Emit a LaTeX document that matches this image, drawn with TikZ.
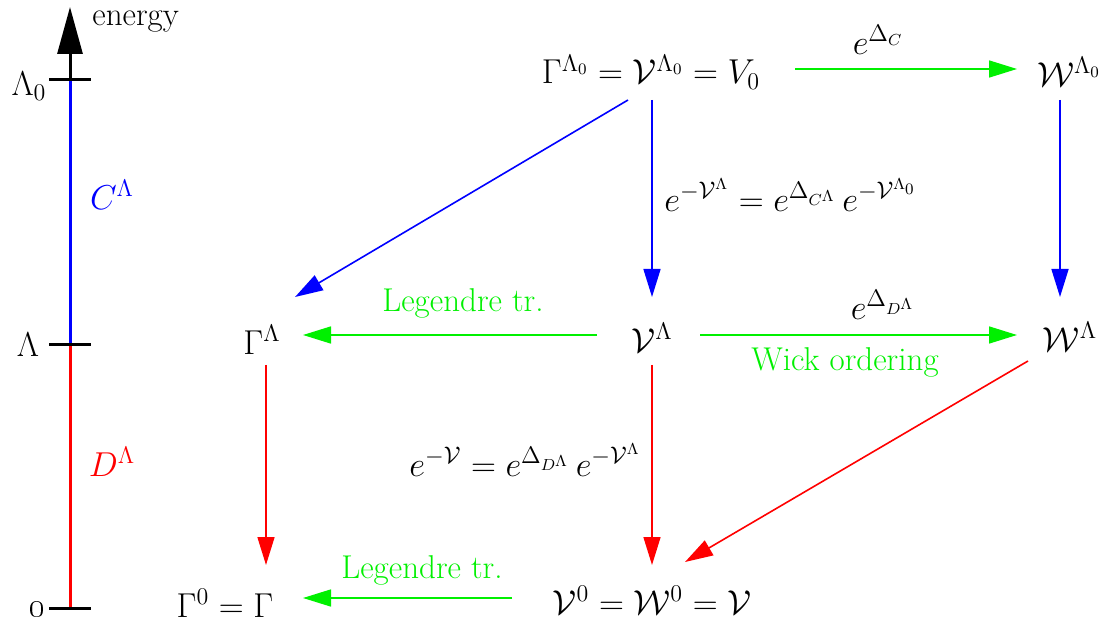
\documentclass[tikz,border=0pt]{standalone}
\usetikzlibrary{arrows.meta,calc}
\definecolor{vgreen}{RGB}{0,240,0}
\begin{document}
\begin{tikzpicture}[x=0.5pt,y=-0.5pt,
  font=\fontsize{16.5}{19}\selectfont,
  arr/.style={line width=0.8pt,-{Triangle[length=14pt,width=8.5pt]}},
  axis/.style={line width=1.5pt},
  lab/.style={inner sep=0pt}]
\useasboundingbox (0,0) rectangle (1113,625);
% energy axis
\coordinate (L0) at (70,80);
\coordinate (L) at (70,345);
\coordinate (Z) at (70,608);
\coordinate (tip) at (70,7);
\draw[axis,-{Triangle[length=23.5pt,width=12.5pt]}] (L0) -- (tip);
\draw[axis,blue] (L0) -- (L);
\draw[axis,red] (L) -- (Z);
\foreach \c in {L0,L,Z}{\draw[axis] ($(\c)+(-21,0)$) -- ($(\c)+(21,0)$);}
\node[lab,anchor=base west] (en) at (92,26) {energy};
\node[lab] (tL0) at (29,86) {$\Lambda_0$};
\node[lab] (tL) at (28,345) {$\Lambda$};
\node[lab] (tZ) at (38,609) {\oldstylenums{0}};
\node[lab,blue] (CL) at (112,195) {$C^{\Lambda}$};
\node[lab,red] (DL) at (112,462) {$D^{\Lambda}$};
% main nodes
\node[lab] (top) at (651,72) {$\Gamma^{\Lambda_0}=\mathcal{V}^{\Lambda_0}=V_0$};
\node[lab] (W0) at (1069,72) {$\mathcal{W}^{\Lambda_0}$};
\node[lab] (GL) at (262,340) {$\Gamma^{\Lambda}$};
\node[lab] (VL) at (652,338) {$\mathcal{V}^{\Lambda}$};
\node[lab] (WL) at (1070,337) {$\mathcal{W}^{\Lambda}$};
\node[lab] (G0) at (225,603) {$\Gamma^{0}=\Gamma$};
\node[lab] (V0) at (652,600) {$\mathcal{V}^{0}=\mathcal{W}^{0}=\mathcal{V}$};
% connectors
\draw[arr,vgreen] ($(top)+(144,-3)$) -- ($(W0)+(-52,-3)$);
\draw[arr,blue] ($(top)+(-23,28)$) -- ($(GL)+(33,-43)$);
\draw[arr,blue] ($(top)+(1,28)$) -- ($(VL)+(0,-41)$);
\draw[arr,blue] ($(W0)+(-9,28)$) -- ($(WL)+(-10,-40)$);
\draw[arr,vgreen] ($(VL)+(-55,-3)$) -- ($(GL)+(41,-5)$);
\draw[arr,vgreen] ($(VL)+(48,-3)$) -- ($(WL)+(-53,-2)$);
\draw[arr,red] ($(GL)+(4,25)$) -- ($(G0)+(41,-38)$);
\draw[arr,red] ($(VL)+(0,27)$) -- ($(V0)+(0,-35)$);
\draw[arr,red] ($(WL)+(-42,24)$) -- ($(V0)+(33,-38)$);
\draw[arr,vgreen] ($(V0)+(-140,-2)$) -- ($(G0)+(78,-5)$);
% labels
\node[lab] (lC) at (878,40) {$e^{\Delta_C}$};
\node[lab,anchor=west] (lV) at (664,195) {$e^{-\mathcal{V}^{\Lambda}}=e^{\Delta_{C^{\Lambda}}}\,e^{-\mathcal{V}^{\Lambda_0}}$};
\node[lab,vgreen] (leg1) at (463,303) {Legendre tr.};
\node[lab] (lD) at (883,305) {$e^{\Delta_{D^{\Lambda}}}$};
\node[lab,vgreen] (wick) at (845,362) {Wick ordering};
\node[lab] (lV2) at (525,460) {$e^{-\mathcal{V}}=e^{\Delta_{D^{\Lambda}}}\,e^{-\mathcal{V}^{\Lambda}}$};
\node[lab,vgreen] (leg2) at (422,570) {Legendre tr.};
\end{tikzpicture}
\end{document}
